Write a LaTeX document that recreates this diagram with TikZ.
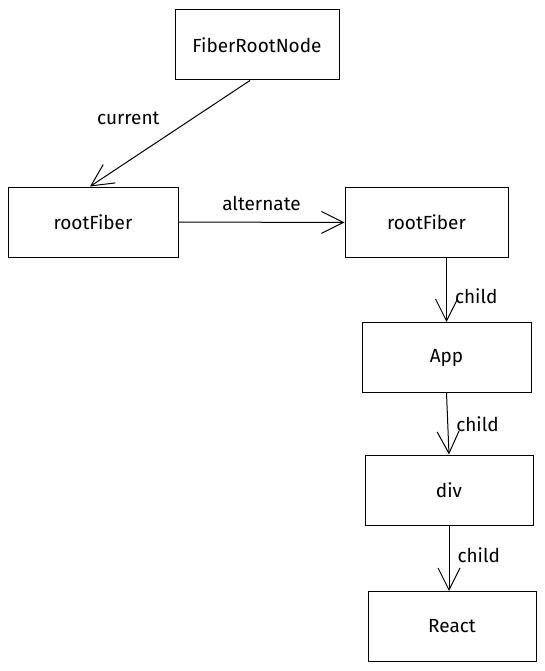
\documentclass[tikz,border=0pt]{standalone}
\usepackage{fontspec}
\setmainfont{Fira Sans}
\usepackage{xcolor}
\usetikzlibrary{arrows.meta}

\tikzset{
    fiberbox/.style={draw, line width=1pt, minimum height=70pt, inner sep=0pt, font=\fontsize{19}{22}\selectfont},
    link/.style={draw, line width=1pt, -{Straight Barb[length=22pt,width=22pt,line width=1pt]}},
    linklabel/.style={font=\fontsize{19}{22}\selectfont, inner sep=2pt}
}

\begin{document}
\begin{tikzpicture}[x=1pt,y=-1pt]
            \useasboundingbox (0,0) rectangle (545,671);
            \node [fiberbox, minimum width=164pt] (fiberroot) at (257,45) {FiberRootNode};
            \node [fiberbox, minimum width=170pt] (rootleft) at (93,222) {rootFiber};
            \node [fiberbox, minimum width=163pt] (rootright) at (426.5,222.5) {rootFiber};
            \node [fiberbox, minimum width=169pt] (app) at (446.5,357.5) {App};
            \node [fiberbox, minimum width=168pt] (div) at (449,490) {div};
            \node [fiberbox, minimum width=168pt] (react) at (452,626.5) {React};
            % links between the fibers
            \draw [link] ([xshift=-7pt]fiberroot.south) -- node [linklabel, pos=0.5, anchor=south east, xshift=-8pt, yshift=6pt] {current} ([xshift=-3pt]rootleft.north);
            \draw [link] (rootleft.east) -- node [linklabel, above=9pt] {alternate} (rootright.west);
            \draw [link] (rootright.south -| app.north) -- node [linklabel, right=6pt, pos=0.6] {child} (app.north);
            \draw [link] (app.south) -- node [linklabel, right=6pt, pos=0.5] {child} (div.north);
            \draw [link] (div.south) -- node [linklabel, right=6pt, pos=0.45] {child} (div.south |- react.north);
        \end{tikzpicture}
\end{document}
